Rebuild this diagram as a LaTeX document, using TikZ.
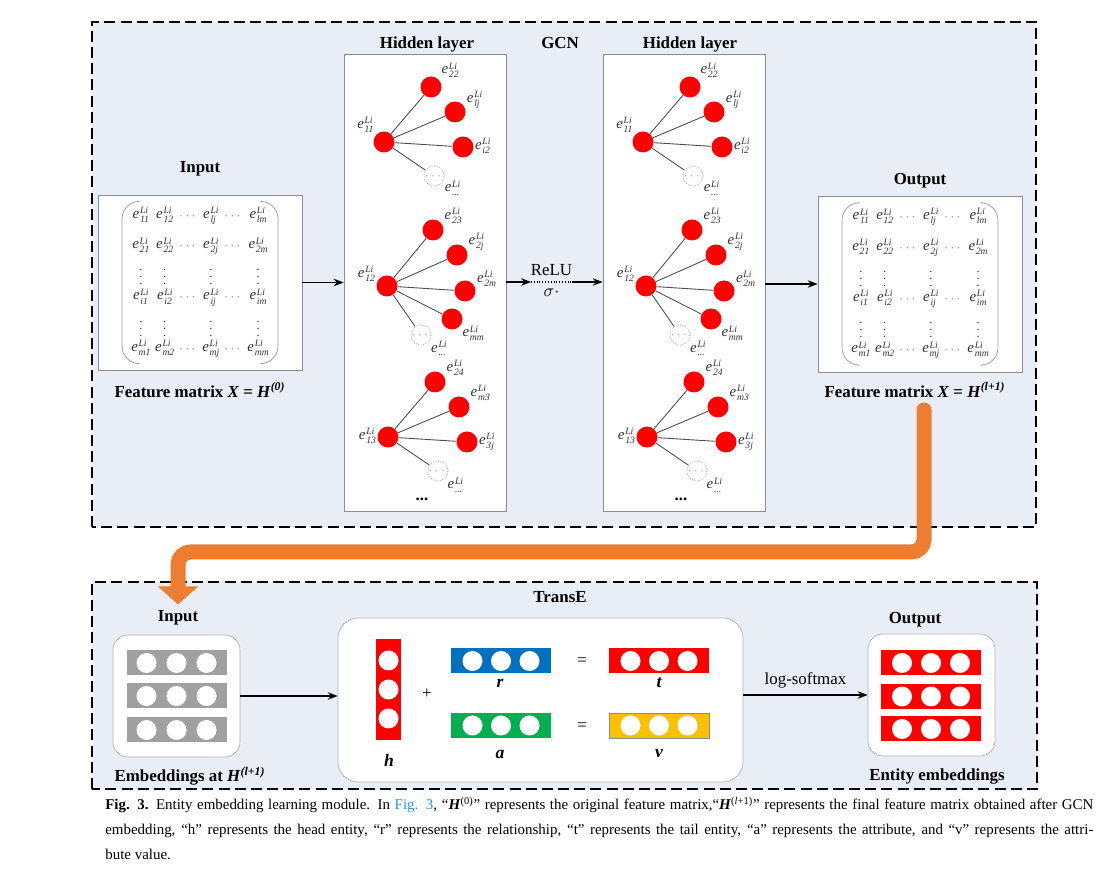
\documentclass[tikz,border=0pt]{standalone}
\usepackage{amsmath}
\usepackage{fontspec}
\setmainfont{Liberation Serif}
\usetikzlibrary{positioning,matrix,arrows.meta}

\definecolor{bgblue}{RGB}{233,237,245}
\definecolor{arrorange}{RGB}{237,125,49}
\definecolor{vblue}{RGB}{0,112,192}
\definecolor{vgreen}{RGB}{0,176,80}
\definecolor{vyellow}{RGB}{255,192,0}
\definecolor{vgray}{RGB}{160,160,160}
\definecolor{linkblue}{RGB}{42,150,210}

% one entity e^{Li}_{..}, Li stacked over the index
\newcommand{\ent}[1]{\textit{e}\hspace{0.4pt}{\fontsize{5.5}{4.6}\selectfont
  \begin{tabular}{@{}l@{}}\textit{Li}\\\textit{#1}\end{tabular}}}
\newcommand{\hdts}{{\tiny$\cdots$}}
\newcommand{\vdts}{{\scriptsize$\vdots$}}

\begin{document}
\begin{tikzpicture}[>=Stealth, font=\fontsize{9.6}{11}\selectfont,
    dbox/.style={draw, line width=1.1pt, dash pattern=on 6.3pt off 2.9pt, fill=bgblue},
    ttl/.style={font=\fontsize{9.6}{11}\selectfont\bfseries},
    conn/.style={->, line width=0.6pt},
    panel/.style={draw=black!45, fill=white, inner sep=0pt},
    rbox/.style={draw=black!30, fill=white, rounded corners=0.3cm, inner sep=0pt,
                 minimum width=2.54cm, minimum height=2.44cm},
    enode/.style={circle, fill=red, minimum size=0.42cm, inner sep=0pt},
    dnode/.style={circle, draw=black!45, densely dotted, fill=white, minimum size=0.4cm,
                  inner sep=0pt, font=\tiny, text=black!60},
    elbl/.style={font=\fontsize{8.5}{10}\selectfont, text=black!80, inner sep=0.5pt},
    edge/.style={draw=black!70, line width=0.5pt},
    mtx/.style={matrix of nodes, inner xsep=0.16cm, inner ysep=0.05cm,
                nodes={elbl, minimum height=0.47cm, anchor=center},
                column sep=0.06cm, row sep=0pt},
    brk/.style={draw=black!40, rounded corners=0.35cm},
    hbar/.style={minimum width=2cm, minimum height=0.5cm, inner sep=0pt},
    vbar/.style={minimum width=0.5cm, minimum height=2.02cm, inner sep=0pt},
    bil/.style={font=\fontsize{10}{12}\selectfont\bfseries\itshape}]
  \useasboundingbox (0,0) rectangle (22.4,17.58);

  % GCN
  \draw[dbox] (1.84,7.04) rectangle (20.72,17.14);
  \node[ttl] (gcn) at (11.2,16.72) {GCN};

  % input feature matrix
  \node[panel, minimum width=4.08cm, minimum height=3.5cm] (inp) at (4.0,11.93) {};
  \matrix[mtx] (inmat) at (inp.center) {
    \ent{11} & \ent{12} & \hdts & \ent{lj} & \hdts & \ent{lm} \\[0.14cm]
    \ent{21} & \ent{22} & \hdts & \ent{2j} & \hdts & \ent{2m} \\
    \vdts & \vdts & & \vdts & & \vdts \\
    \ent{i1} & \ent{i2} & \hdts & \ent{ij} & \hdts & \ent{im} \\
    \vdts & \vdts & & \vdts & & \vdts \\
    \ent{m1} & \ent{m2} & \hdts & \ent{mj} & \hdts & \ent{mm} \\
  };
  \node[ttl, above=0.25cm of inp] (intl) {Input};
  \node[ttl] (inlbl) at (4.0,9.78)
    {Feature matrix \textit{X} = \textit{H}\textsuperscript{\textit{(0)}}};

  % hidden layers
  \node[panel, minimum width=3.24cm, minimum height=9.14cm] (hid1) at (8.5,11.93) {};
  \node[panel, minimum width=3.24cm, minimum height=9.14cm] (hid2) at (13.68,11.93) {};
  \node[ttl] (h1tl) at (8.54,16.70) {Hidden layer};
  \node[ttl] (h2tl) at (13.8,16.70) {Hidden layer};
  \foreach \p/\dx in {1/0,2/5.18}{%
    \begin{scope}[xshift=\dx cm]
      \node[enode, label={[elbl]148:\ent{11}}] (a0-\p) at (7.68,14.74) {};
      \node[enode, label={[elbl]30:\ent{22}}] (a1-\p) at (8.62,15.84) {};
      \node[enode, label={[elbl]10:\ent{lj}}] (a2-\p) at (9.10,15.34) {};
      \node[enode, label={[elbl]0:\ent{i2}}] (a3-\p) at (9.26,14.64) {};
      \node[dnode, label={[elbl]-22:\ent{...}}] (a4-\p) at (8.68,14.06) {$\cdots$};
      \foreach \k in {1,...,4} \draw[edge] (a0-\p) -- (a\k-\p);
      %
      \node[enode, label={[elbl]175:\ent{12}}] (b0-\p) at (7.74,11.86) {};
      \node[enode, label={[elbl]15:\ent{23}}] (b1-\p) at (8.66,12.98) {};
      \node[enode, label={[elbl]15:\ent{2j}}] (b2-\p) at (9.14,12.48) {};
      \node[enode, label={[elbl]5:\ent{2m}}] (b3-\p) at (9.30,11.76) {};
      \node[enode, label={[elbl]-30:\ent{mm}}] (b4-\p) at (9.04,11.20) {};
      \node[dnode, label={[elbl]-30:\ent{...}}] (b5-\p) at (8.42,10.88) {$\cdots$};
      \foreach \k in {1,...,5} \draw[edge] (b0-\p) -- (b\k-\p);
      %
      \node[enode, label={[elbl]180:\ent{13}}] (c0-\p) at (7.76,8.84) {};
      \node[enode, label={[elbl]15:\ent{24}}] (c1-\p) at (8.70,9.94) {};
      \node[enode, label={[elbl]15:\ent{m3}}] (c2-\p) at (9.18,9.44) {};
      \node[enode, label={[elbl]0:\ent{3j}}] (c3-\p) at (9.34,8.74) {};
      \node[dnode, label={[elbl]-35:\ent{...}}] (c4-\p) at (8.76,8.16) {$\cdots$};
      \foreach \k in {1,...,4} \draw[edge] (c0-\p) -- (c\k-\p);
      \node (more-\p) at (8.44,7.60) {\textbf{...}};
    \end{scope}}

  % output feature matrix
  \node[panel, minimum width=4.08cm, minimum height=3.52cm] (outp) at (18.4,11.9) {};
  \matrix[mtx] (outmat) at (outp.center) {
    \ent{11} & \ent{12} & \hdts & \ent{lj} & \hdts & \ent{lm} \\[0.14cm]
    \ent{21} & \ent{22} & \hdts & \ent{2j} & \hdts & \ent{2m} \\
    \vdts & \vdts & & \vdts & & \vdts \\
    \ent{i1} & \ent{i2} & \hdts & \ent{ij} & \hdts & \ent{im} \\
    \vdts & \vdts & & \vdts & & \vdts \\
    \ent{m1} & \ent{m2} & \hdts & \ent{mj} & \hdts & \ent{mm} \\
  };
  \node[ttl, above=0.03cm of outp] (outtl) {Output};
  \node[ttl] (outlbl) at (18.3,9.78)
    {Feature matrix \textit{X} = \textit{H}\textsuperscript{\textit{(l+1)}}};

  % round brackets of both matrices
  \foreach \m in {inmat,outmat}{%
    \draw[brk] ([xshift=0.3cm]\m.north west) -- (\m.north west)
      -- (\m.south west) -- ([xshift=0.3cm]\m.south west);
    \draw[brk] ([xshift=-0.3cm]\m.north east) -- (\m.north east)
      -- (\m.south east) -- ([xshift=-0.3cm]\m.south east);}

  % connectors
  \draw[conn] (inp.east) -- (inp.east -| hid1.west);
  \coordinate (relu1) at (10.62,11.94);
  \coordinate (relu2) at (11.44,11.94);
  \draw[conn] (hid1.east |- relu1) -- (relu1);
  \draw[densely dotted, line width=0.6pt] (relu1) -- (relu2)
    node[midway, above] {ReLU} node[midway, below] {$\sigma\cdot$};
  \draw[conn] (relu2) -- (hid2.west |- relu2);
  \draw[conn] (hid2.east |- outp.west) -- (outp.west);

  % TransE
  \draw[dbox] (1.84,1.80) rectangle (20.74,5.94);
  \node[ttl] (transe) at (11.2,5.64) {TransE};

  \node[ttl] (bintl) at (3.56,5.22) {Input};
  \node[rbox] (embin) at (3.53,3.66) {};
  \foreach \y [count=\i] in {4.32,3.66,2.98}{%
    \node[hbar, fill=vgray] (ib\i) at (3.53,\y) {};
    \foreach \dx in {-0.6,0,0.6}
      \fill[white] ([xshift=\dx cm]ib\i.center) circle (0.2cm);}
  \node[ttl] (binlbl) at (3.8,2.06)
    {Embeddings at \textit{H}\textsuperscript{\textit{(l+1)}}};

  \node[rbox, rounded corners=0.4cm, minimum width=8.1cm, minimum height=3.28cm]
    (tbox) at (10.81,3.58) {};
  \node[vbar, fill=red] (hvec) at (7.77,3.79) {};
  \foreach \dy in {-0.58,0,0.58}
    \fill[white] ([yshift=\dy cm]hvec.center) circle (0.2cm);
  \node[bil] (hlbl) at (7.78,2.38) {h};
  \node (plus) at (8.54,3.70) {+};
  \node[hbar, fill=vblue] (rvec) at (10.02,4.36) {};
  \node[hbar, fill=red] (tvec) at (13.18,4.36) {};
  \node[hbar, fill=vgreen] (avec) at (10.02,3.07) {};
  \node[hbar, fill=vyellow, draw=black!45] (vvec) at (13.18,3.07) {};
  \foreach \v in {rvec,tvec,avec,vvec}
    \foreach \dx in {-0.57,0,0.57}
      \fill[white] ([xshift=\dx cm]\v.center) circle (0.2cm);
  \node[bil] (rlbl) at (10.0,3.92) {r};
  \node[bil] (tlbl) at (13.18,3.92) {t};
  \node[bil] (albl) at (10.0,2.50) {a};
  \node[bil] (vlbl) at (13.18,2.50) {v};
  \node (eq1) at (11.64,4.34) {=};
  \node (eq2) at (11.64,3.04) {=};

  \node[ttl] (bouttl) at (18.3,5.18) {Output};
  \node[rbox] (embout) at (18.63,3.68) {};
  \foreach \y [count=\i] in {4.32,3.65,3.0}{%
    \node[hbar, fill=red] (ob\i) at (18.62,\y) {};
    \foreach \dx in {-0.58,0,0.58}
      \fill[white] ([xshift=\dx cm]ob\i.center) circle (0.2cm);}
  \node[ttl] (boutlbl) at (18.74,2.04) {Entity embeddings};

  \draw[conn] (embin.east) -- (embin.east -| tbox.west);
  \draw[conn] (tbox.east |- embout.west) -- (embout.west)
    node[midway, above] {log-softmax};

  % GCN output feeds TransE
  \coordinate (ostart) at (18.48,9.38);
  \coordinate (obend) at (18.48,6.54);
  \draw[arrorange, line width=0.3cm, line cap=round, rounded corners=0.25cm,
        -{Triangle[width=0.78cm,length=0.36cm]}]
    (ostart) -- (obend) -- (bintl.north |- obend) -- (bintl.north);

  % caption
  \node[anchor=north west, text width=19.76cm, align=justify, inner sep=0pt,
        font=\fontsize{8.5}{14.2}\selectfont] (cap) at (2.1,1.64)
    {\textbf{Fig. 3.} Entity embedding learning module. In {\color{linkblue}Fig. 3},
     “\textbf{\textit{H}}\textsuperscript{(0)}” represents the original feature matrix,“\textbf{\textit{H}}\textsuperscript{(\textit{l}+1)}” represents the final feature matrix obtained after GCN\linebreak
     embedding, “h” represents the head entity, “r” represents the relationship, “t” represents the tail entity, “a” represents the attribute, and “v” represents the attri-\linebreak
     bute value.};
\end{tikzpicture}
\end{document}
